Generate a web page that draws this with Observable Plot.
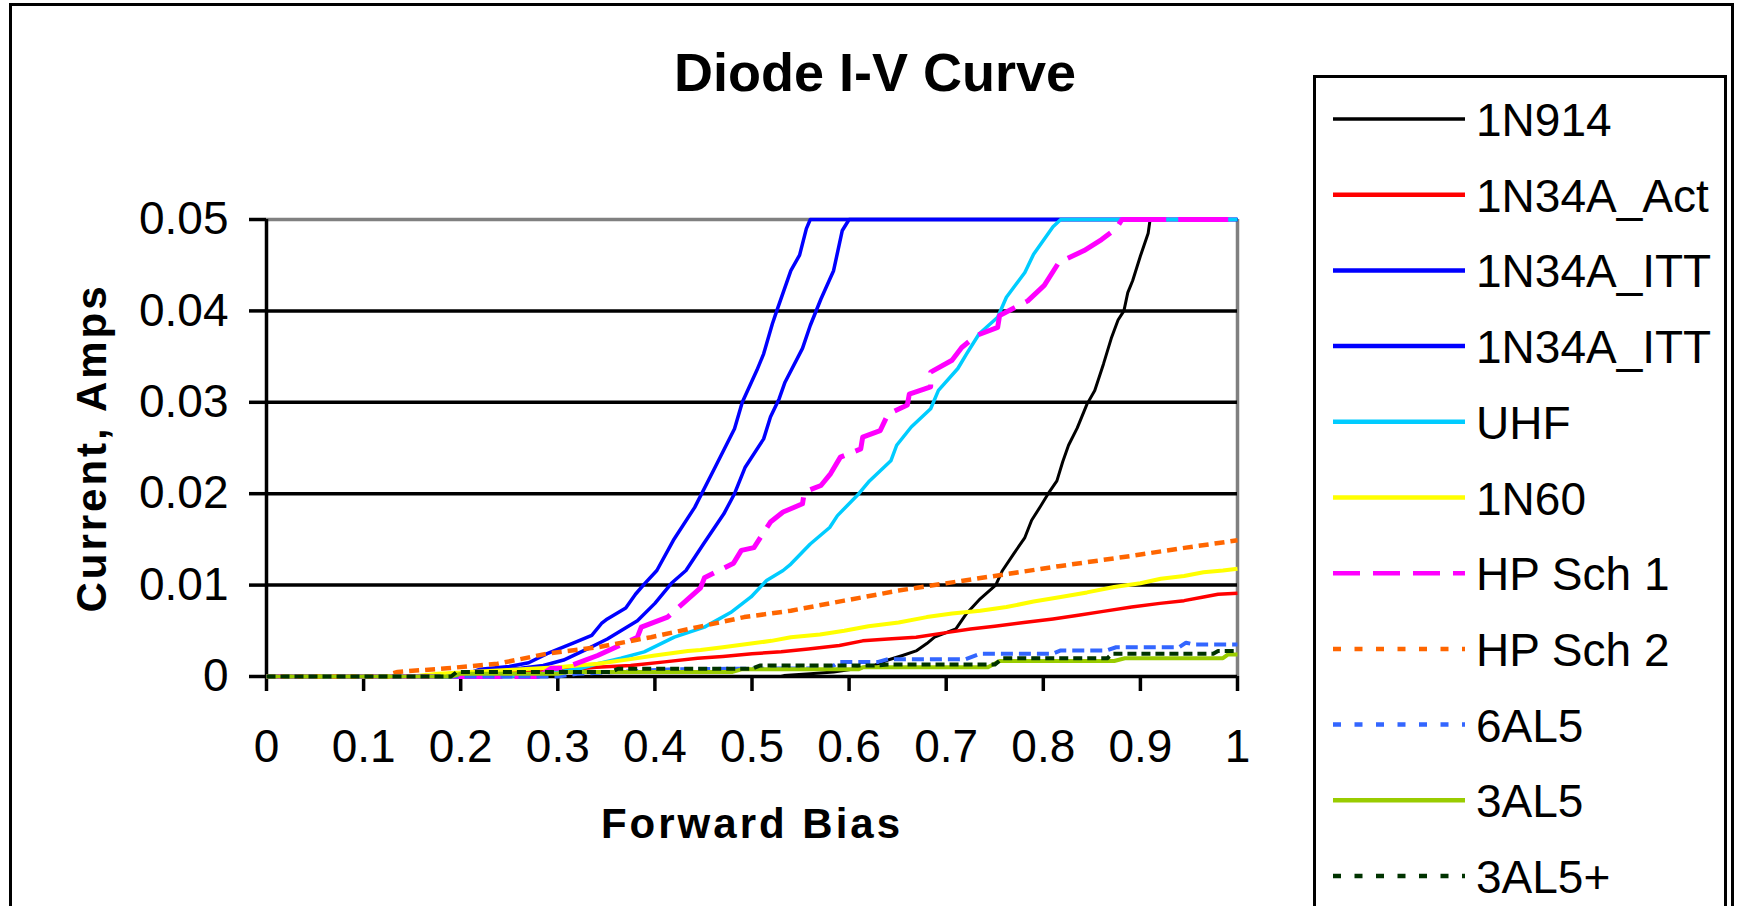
<!DOCTYPE html>
<html>
<head>
<meta charset="utf-8">
<script src="https://cdn.jsdelivr.net/npm/d3@7"></script>
<script src="https://cdn.jsdelivr.net/npm/@observablehq/plot@0.6"></script>
<style>
  html, body { margin: 0; padding: 0; background: #fff; }
  #wrap { position: relative; width: 1746px; height: 906px; overflow: hidden; background: #fff; }
  #wrap svg { position: absolute; left: 0; top: 0; }
  #outer { position: absolute; left: 9px; top: 3px; width: 1725px; height: 940px; border: 3px solid #000; box-sizing: border-box; }
  #legendbox { position: absolute; left: 1313px; top: 75px; width: 414px; height: 900px; border: 3px solid #000; box-sizing: border-box; }
</style>
</head>
<body>
<div id="wrap">
  <div id="outer"></div>
  <div id="legendbox"></div>
</div>
<script>
// ---------- data ----------
const titleText = "Diode I-V Curve";
const xTitle = "Forward Bias";
const yTitle = "Current, Amps";
const xTicks = [0, 0.1, 0.2, 0.3, 0.4, 0.5, 0.6, 0.7, 0.8, 0.9, 1];
const yTicks = [0, 0.01, 0.02, 0.03, 0.04, 0.05];

const seriesNames = ["1N914", "1N34A_Act", "1N34A_ITT", "1N34A_ITT", "UHF", "1N60", "HP Sch 1", "HP Sch 2", "6AL5", "3AL5", "3AL5+"];

const d1N914 = [[0,0],[0.53,0],[0.533,0.0001],[0.56,0.0003],[0.584,0.0005],[0.61,0.0009],[0.625,0.0012],[0.64,0.0018],[0.655,0.0023],[0.669,0.0028],[0.68,0.0036],[0.688,0.0043],[0.70,0.0048],[0.71,0.0052],[0.721,0.0069],[0.735,0.0085],[0.751,0.01],[0.758,0.0116],[0.77,0.0135],[0.781,0.0152],[0.788,0.0171],[0.797,0.0186],[0.805,0.02],[0.814,0.0214],[0.82,0.0235],[0.826,0.0253],[0.835,0.0272],[0.845,0.0298],[0.853,0.0313],[0.862,0.0342],[0.87,0.037],[0.877,0.039],[0.883,0.04],[0.887,0.042],[0.892,0.0433],[0.90,0.046],[0.908,0.0485],[0.91,0.05],[1,0.05]];
const d1N34A_Act = [[0,0],[0.2,0],[0.248,0.0005],[0.306,0.0007],[0.34,0.001],[0.375,0.0012],[0.41,0.0016],[0.444,0.002],[0.47,0.0022],[0.5,0.0025],[0.53,0.0027],[0.558,0.003],[0.59,0.0034],[0.614,0.0039],[0.64,0.0041],[0.669,0.0043],[0.70,0.0048],[0.725,0.0052],[0.75,0.0055],[0.78,0.0059],[0.81,0.0063],[0.836,0.0067],[0.86,0.0071],[0.891,0.0076],[0.92,0.008],[0.945,0.0083],[0.965,0.0087],[0.98,0.009],[1,0.0091]];
const d1N34A_ITT_a = [[0,0],[0.2,0],[0.22,0.0008],[0.25,0.0011],[0.27,0.0015],[0.289,0.0025],[0.317,0.0037],[0.335,0.0045],[0.345,0.0058],[0.351,0.0063],[0.37,0.0075],[0.38,0.009],[0.389,0.0101],[0.402,0.0116],[0.419,0.0149],[0.441,0.0185],[0.462,0.0229],[0.482,0.0271],[0.49,0.03],[0.505,0.0335],[0.512,0.0353],[0.521,0.0386],[0.5255,0.04],[0.54,0.0444],[0.549,0.0461],[0.556,0.049],[0.56,0.05],[1,0.05]];
const d1N34A_ITT_b = [[0,0],[0.2,0],[0.24,0.0007],[0.262,0.0009],[0.285,0.0012],[0.306,0.0018],[0.33,0.003],[0.351,0.0041],[0.365,0.005],[0.382,0.0061],[0.40,0.008],[0.417,0.0102],[0.432,0.0116],[0.45,0.0145],[0.471,0.0178],[0.482,0.02],[0.493,0.0229],[0.512,0.026],[0.519,0.0284],[0.528,0.0304],[0.534,0.0322],[0.552,0.0359],[0.56,0.0384],[0.571,0.0413],[0.584,0.0444],[0.593,0.0488],[0.6,0.05],[1,0.05]];
const dUHF = [[0,0],[0.25,0],[0.3,0.0005],[0.324,0.0009],[0.341,0.0014],[0.365,0.002],[0.389,0.0027],[0.42,0.0043],[0.451,0.0054],[0.478,0.007],[0.499,0.0087],[0.515,0.0105],[0.532,0.0116],[0.54,0.0123],[0.56,0.0145],[0.58,0.0163],[0.588,0.0176],[0.61,0.02],[0.621,0.0214],[0.643,0.0236],[0.649,0.0253],[0.664,0.0273],[0.684,0.0293],[0.692,0.0313],[0.712,0.0337],[0.721,0.0353],[0.734,0.0375],[0.753,0.0393],[0.762,0.0415],[0.781,0.0442],[0.79,0.0462],[0.81,0.0492],[0.818,0.05],[1,0.05]];
const d1N60 = [[0,0],[0.15,0],[0.176,0.0003],[0.248,0.0007],[0.30,0.001],[0.341,0.0014],[0.375,0.0019],[0.40,0.0023],[0.434,0.0028],[0.447,0.0029],[0.47,0.0032],[0.499,0.0036],[0.52,0.0039],[0.54,0.0043],[0.57,0.0046],[0.595,0.005],[0.62,0.0055],[0.651,0.0059],[0.68,0.0065],[0.706,0.0069],[0.735,0.0072],[0.762,0.0076],[0.79,0.0082],[0.818,0.0087],[0.845,0.0092],[0.873,0.0098],[0.90,0.0102],[0.921,0.0107],[0.945,0.011],[0.965,0.0114],[0.985,0.0116],[1,0.0118]];
const dHPSch1 = [[0,0],[0.28,0],[0.293,0.0009],[0.306,0.0009],[0.341,0.0023],[0.382,0.0043],[0.386,0.0054],[0.413,0.0065],[0.447,0.0097],[0.451,0.0108],[0.481,0.0124],[0.489,0.0138],[0.502,0.0141],[0.519,0.0169],[0.532,0.018],[0.552,0.0189],[0.554,0.0202],[0.571,0.0209],[0.581,0.0222],[0.591,0.024],[0.612,0.0249],[0.614,0.0262],[0.632,0.0269],[0.64,0.0287],[0.66,0.0297],[0.662,0.0309],[0.684,0.0317],[0.684,0.0333],[0.706,0.0346],[0.716,0.036],[0.731,0.0373],[0.753,0.0382],[0.755,0.0395],[0.784,0.0411],[0.801,0.0428],[0.816,0.0453],[0.842,0.0466],[0.86,0.0478],[0.875,0.049],[0.881,0.05],[1,0.05]];
const dHPSch2 = [[0,0],[0.125,0],[0.128,0.0003],[0.135,0.0005],[0.186,0.0009],[0.238,0.0014],[0.289,0.0025],[0.341,0.0032],[0.396,0.0043],[0.444,0.0054],[0.492,0.0065],[0.54,0.0072],[0.595,0.0083],[0.651,0.0094],[0.706,0.0103],[0.762,0.0112],[0.818,0.0121],[0.891,0.0132],[0.947,0.0141],[1,0.0149]];
const d6AL5 = [[0,0],[0.3,0],[0.32,0.0003],[0.42,0.0008],[0.58,0.0009],[0.59,0.0016],[0.63,0.0016],[0.64,0.0019],[0.72,0.0019],[0.735,0.0025],[0.81,0.0025],[0.818,0.00285],[0.865,0.00285],[0.875,0.0032],[0.94,0.0032],[0.947,0.0037],[0.955,0.0035],[1,0.0035]];
const d3AL5 = [[0,0],[0.19,0],[0.2,0.0003],[0.3,0.0003],[0.31,0.0005],[0.48,0.0005],[0.49,0.0008],[0.61,0.0008],[0.614,0.001],[0.743,0.001],[0.755,0.0017],[0.873,0.0017],[0.884,0.002],[0.985,0.002],[0.99,0.0024],[1,0.0024]];
const d3AL5plus = [[0,0],[0.19,0],[0.196,0.0005],[0.355,0.0005],[0.362,0.00085],[0.5,0.00085],[0.508,0.0012],[0.626,0.0012],[0.64,0.0013],[0.75,0.0013],[0.758,0.002],[0.866,0.002],[0.871,0.0025],[0.975,0.0025],[0.98,0.0028],[1,0.0028]];

const seriesData = [d1N914, d1N34A_Act, d1N34A_ITT_a, d1N34A_ITT_b, dUHF, d1N60, dHPSch1, dHPSch2, d6AL5, d3AL5, d3AL5plus];

// ---------- styles ----------
const seriesColors = ["#000000", "#FF0000", "#0000FF", "#0000FF", "#00CCFF", "#FFFF00", "#FF00FF", "#FF6600", "#3366FF", "#99CC00", "#003300"];
const seriesWidths = [3, 3.5, 3.5, 3.5, 3.5, 4, 5, 4.5, 4, 4, 4];
const plotDash = [null, null, null, null, null, null, "50,12", "10,6", "12,6", null, "9,5"];
const legendDash = [null, null, null, null, null, null, "27,13", "8,13.5", "8,13.5", null, "8,13.5"];

const W = 1746, H = 906;
const FONT = "'Liberation Sans', Arial, Helvetica, sans-serif";

const lineMarks = seriesData.map((data, i) => Plot.line(data.map(([x, y]) => ({x, y})), {
  x: "x", y: "y",
  stroke: seriesColors[i],
  strokeWidth: seriesWidths[i],
  strokeDasharray: plotDash[i] || undefined,
  strokeLinejoin: "round",
  strokeLinecap: "butt"
}));

const chart = Plot.plot({
  width: W,
  height: H,
  marginLeft: 266,
  marginRight: 509,
  marginTop: 219,
  marginBottom: 230,
  style: {fontFamily: FONT, fontSize: "46px", color: "#000", background: "transparent", overflow: "visible"},
  x: {domain: [0, 1], label: null},
  y: {domain: [0, 0.05], label: null},
  marks: [
    Plot.ruleY([0.05], {stroke: "#808080", strokeWidth: 3.5}),
    Plot.ruleX([1], {stroke: "#808080", strokeWidth: 3.5}),
    Plot.ruleY(yTicks.filter(d => d > 0 && d < 0.05), {stroke: "#000", strokeWidth: 3.5}),
    Plot.axisY({ticks: yTicks, tickSize: 17, tickPadding: 21, tickFormat: d => d === 0 ? "0" : d.toFixed(2), strokeWidth: 3.5, label: null, fontSize: 46}),
    Plot.axisX({ticks: xTicks, tickSize: 15, tickPadding: 38, tickFormat: d => String(d), strokeWidth: 3.5, label: null, fontSize: 46}),
    Plot.ruleX([0], {stroke: "#000", strokeWidth: 3.5}),
    Plot.ruleY([0], {stroke: "#000", strokeWidth: 3.5}),
    ...lineMarks,
    Plot.text([titleText], {frameAnchor: "top", dx: 123, dy: -146, lineAnchor: "middle", textAnchor: "middle", fontSize: 54, fontWeight: "bold", fill: "#000"}),
    Plot.text([xTitle], {frameAnchor: "bottom", dy: 148, lineAnchor: "middle", textAnchor: "middle", fontSize: 42, fontWeight: "bold", fill: "#000"}),
    Plot.text([yTitle], {frameAnchor: "left", dx: -174, rotate: -90, lineAnchor: "middle", textAnchor: "middle", fontSize: 42, fontWeight: "bold", fill: "#000"})
  ]
});

d3.select(chart).selectAll("text").each(function() {
  const t = this.textContent;
  if (t === xTitle || t === yTitle) d3.select(this).style("letter-spacing", "3px");
});

const wrap = document.getElementById("wrap");
wrap.appendChild(chart);

// ---------- legend ----------
const legendX0 = 1333, legendX1 = 1465, legendTextX = 1476, legendY0 = 119, legendStep = 75.7;
const leg = d3.select(wrap).append("svg")
  .attr("width", W).attr("height", H)
  .style("pointer-events", "none");
seriesNames.forEach((name, i) => {
  const y = legendY0 + i * legendStep;
  leg.append("line")
    .attr("x1", legendX0).attr("x2", legendX1)
    .attr("y1", y).attr("y2", y)
    .attr("stroke", seriesColors[i])
    .attr("stroke-width", i === 0 ? 3.5 : 4.5)
    .attr("stroke-dasharray", legendDash[i]);
  leg.append("text")
    .attr("x", legendTextX).attr("y", y + 17)
    .attr("font-family", FONT).attr("font-size", 46)
    .attr("fill", "#000")
    .text(name);
});
</script>
</body>
</html>
